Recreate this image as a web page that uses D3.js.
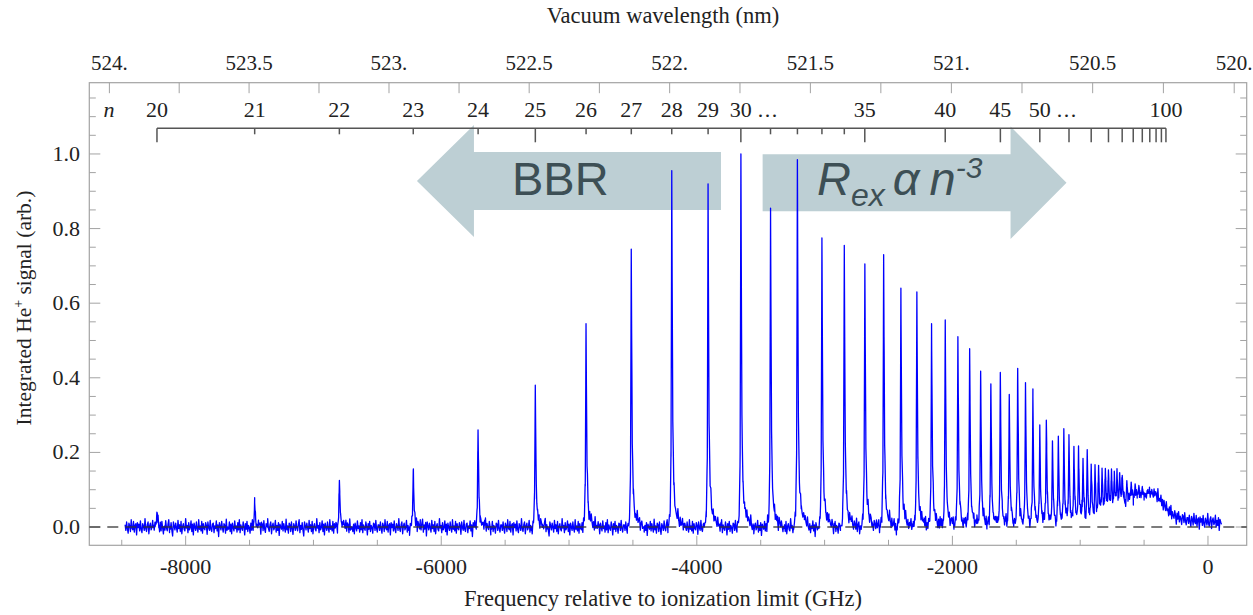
<!DOCTYPE html>
<html>
<head>
<meta charset="utf-8">
<script src="https://cdn.jsdelivr.net/npm/d3@7"></script>
<style>
  body { margin: 0; background: #fff; }
  svg { display: block; }
  text { font-family: "Liberation Serif", "Times New Roman", serif; fill: #222; }
</style>
</head>
<body>
<svg id="chart" width="1253" height="615"></svg>
<script>
// Rydberg peaks (GHz below the ionization limit, arb. height)
const peakFreq = [-8225, -7460, -6797, -6219, -5712, -5264, -4867, -4513, -4196, -3912,
  -3655, -3423, -3213, -3021, -2846, -2685, -2538, -2403, -2278, -2163,
  -2056, -1957, -1865, -1779, -1699, -1625, -1555, -1489, -1428, -1370,
  -1316, -1265, -1217, -1171, -1128, -1088, -1049, -1013, -978, -945,
  -914, -884, -856, -829, -803, -779, -755, -733, -712, -691,
  -671, -635, -601, -570, -541, -514];
const peakHeight = [0.04, 0.065, 0.125, 0.15, 0.26, 0.38, 0.545, 0.745, 0.945, 0.92,
  1.0, 0.855, 0.985, 0.775, 0.755, 0.705, 0.73, 0.64, 0.63, 0.545,
  0.555, 0.51, 0.476, 0.415, 0.38, 0.41, 0.35, 0.42, 0.38, 0.342,
  0.262, 0.28, 0.223, 0.236, 0.253, 0.233, 0.2, 0.2, 0.165, 0.188,
  0.145, 0.138, 0.13, 0.118, 0.113, 0.105, 0.104, 0.092, 0.095, 0.08,
  0.07, 0.055, 0.045, 0.035, 0.025, 0.02];

// unresolved high-n continuum under the merged lines
const bgFreq = [-1160, -923, -845, -767, -689, -610, -532, -454, -399, -352, -313, -258, -180, -63, 110];
const bgLevel = [0, 0.01, 0.025, 0.035, 0.05, 0.07, 0.085, 0.09, 0.085, 0.065, 0.045, 0.03, 0.02, 0.015, 0.013];

// line shape of a single peak (offset in GHz, fraction of height)
const profileOffset = [-30, -14, -6, -2, 0, 3, 8, 16, 30, 55, 100];
const profileLevel = [0, 0.03, 0.2, 0.7, 1, 0.7, 0.3, 0.12, 0.05, 0.02, 0];

// baseline jitter, in units of 0.001
const baselineNoise = [4, -6, 9, -3, -11, 7, 2, -8, 13, -2, -5, 10, -9, 3, 6, -14, 8, -1, 5, -7,
  11, -4, -10, 6, 1, -6, 15, -3, -8, 4, 9, -12, 2, 7, -5, -1, 12, -9, 3, -6,
  8, -15, 5, 0, -4, 10, -7, 6, -2, -9, 14, -5, 2, -11, 7, 4, -8, 9, -3, -13,
  6, 1, -6, 11, -2, -7, 5, 13, -10, 3, -4, 8, -6, -16, 9, 2, -5, 7, -1, -9,
  12, -3, 4, -8, 10, -12, 1, 6, -4, -7, 15, -2, 3, -10, 8, -5, -1, 11, -8, 5,
  -14, 7, 0, -6, 9, -3, -9, 13, -4, 2, -7, 10, -11, 6, -2, -5, 8, 3, -13, 9,
  -1, -6, 12, -4, -8, 5, 7, -10, 2, -3, 11, -7, 4, -17, 8, 1, -5, 10, -2, -9,
  6, 3, -11, 14, -6, 0, -4, 9, -8, 5, -12, 7, -1, -7, 11, -3, 2, -9, 8, -5,
  13, -10, 4, -2, -6, 9, 1, -14, 6, -4, 10, -8, 3, -1, -11, 7, 5, -6, 12, -3, -9, 4];

const yTickValues = [0, 0.2, 0.4, 0.6, 0.8, 1.0];
const xTickValues = [-8000, -6000, -4000, -2000, 0];
const wavelengthTicks = [524, 523.75, 523.5, 523.25, 523, 522.75, 522.5, 522.25, 522,
  521.75, 521.5, 521.25, 521, 520.75, 520.5, 520.25, 520];
const wavelengthLabels = ["524.", "523.5", "523.", "522.5", "522.", "521.5", "521.", "520.5", "520."];
const nTicks = [20, 21, 22, 23, 24, 25, 26, 27, 28, 29, 30, 31, 32, 33, 34, 35, 40, 45,
  50, 55, 60, 65, 70, 75, 80, 85, 90, 95, 100];
const nLongTicks = [20, 25, 30, 35, 40, 45, 50, 55, 60, 65, 70, 75, 80, 85, 90, 95, 100];
const nLabels = [20, 21, 22, 23, 24, 25, 26, 27, 28, 29, 30, 35, 40, 45, 50, 100];
const nEllipsis = [30, 50];

const rydberg = 3289800; // GHz
const ionLimit = 1152842.7; // GHz, two-photon of the laser
const lightSpeed = 299792458; // nm GHz

const box = { left: 89.3, right: 1246.7, top: 82.7, bottom: 545.3 };
const x = d3.scaleLinear().domain([-8754, 303]).range([box.left, box.right]);
const y = d3.scaleLinear().domain([-0.049, 1.191]).range([box.bottom, box.top]);

const svg = d3.select("#chart");
const frameColor = "#a3a3a3";
const labelSize = "22px";

const interp = (xs, ys, v) => {
  if (v <= xs[0]) return ys[0];
  if (v >= xs[xs.length - 1]) return ys[ys.length - 1];
  const i = d3.bisectRight(xs, v);
  const t = (v - xs[i - 1]) / (xs[i] - xs[i - 1]);
  return ys[i - 1] + t * (ys[i] - ys[i - 1]);
};

const buildSpectrum = () => {
  const samples = [];
  for (let f = -8474; f <= 110; f += 6) samples.push({ f, grid: true });
  peakFreq.forEach((p) => profileOffset.forEach((o) => samples.push({ f: p + o, grid: false })));
  samples.sort((a, b) => a.f - b.f);
  return samples.map((s, i) => {
    const f = s.f;
    let v = f < bgFreq[0] ? 0 : interp(bgFreq, bgLevel, f);
    peakFreq.forEach((p, k) => {
      const d = f - p;
      if (d > profileOffset[0] && d < profileOffset[profileOffset.length - 1]) {
        v += peakHeight[k] * interp(profileOffset, profileLevel, d);
      }
    });
    if (s.grid) v += baselineNoise[i % baselineNoise.length] * 0.0015;
    return [f, v];
  });
};

// arrows (behind everything)
const arrow = (tail, headBase, tip, center, bodyHalf, headHalf) => {
  const pts = [
    [tip, center],
    [headBase, center + headHalf],
    [headBase, center + bodyHalf],
    [tail, center + bodyHalf],
    [tail, center - bodyHalf],
    [headBase, center - bodyHalf],
    [headBase, center - headHalf],
  ];
  svg.append("polygon")
    .attr("points", pts.map((p) => [x(p[0]), y(p[1])].join(",")).join(" "))
    .attr("fill", "#bdcfd4");
};
arrow(-3811, -5744, -6190, 0.9276, 0.0777, 0.150);
arrow(-3485, -1545, -1107, 0.9228, 0.0764, 0.151);

svg.append("text")
  .attr("x", 512).attr("y", 195)
  .style("font-family", "'Liberation Sans', Arial, sans-serif")
  .style("font-size", "47px")
  .style("fill", "#3d4f55")
  .text("BBR");

const rex = svg.append("text")
  .attr("x", 817).attr("y", 195)
  .style("font-family", "'Liberation Sans', Arial, sans-serif")
  .style("font-size", "47px")
  .style("font-style", "italic")
  .style("fill", "#3d4f55");
rex.append("tspan").text("R");
rex.append("tspan").attr("dy", 11).style("font-size", "32px").text("ex");
rex.append("tspan").attr("dy", -11).attr("dx", 8).text("α");
rex.append("tspan").attr("dx", 10).text("n");
rex.append("tspan").attr("dy", -17).style("font-size", "30px").text("-3");

// frame
svg.append("rect")
  .attr("x", box.left).attr("y", box.top)
  .attr("width", box.right - box.left).attr("height", box.bottom - box.top)
  .attr("fill", "none").attr("stroke", frameColor).attr("stroke-width", 1.2);

// y ticks, both sides
const yMinor = d3.range(0, 24).map((i) => i * 0.05);
yMinor.forEach((v) => {
  const major = Math.abs(v * 5 - Math.round(v * 5)) < 1e-6;
  const len = major ? 11 : 6.5;
  svg.append("line")
    .attr("x1", box.left).attr("x2", box.left + len)
    .attr("y1", y(v)).attr("y2", y(v))
    .attr("stroke", frameColor);
  svg.append("line")
    .attr("x1", box.right).attr("x2", box.right - len)
    .attr("y1", y(v)).attr("y2", y(v))
    .attr("stroke", frameColor);
});
svg.selectAll(".ylab")
  .data(yTickValues)
  .join("text")
  .attr("class", "ylab")
  .attr("x", 80)
  .attr("y", (d) => y(d) + 7)
  .attr("text-anchor", "end")
  .style("font-size", labelSize)
  .text((d) => d.toFixed(1));

// bottom ticks
d3.range(-8500, 1, 500).forEach((f) => {
  const len = f % 2000 === 0 ? 9.5 : 5.5;
  svg.append("line")
    .attr("x1", x(f)).attr("x2", x(f))
    .attr("y1", box.bottom).attr("y2", box.bottom - len)
    .attr("stroke", frameColor);
});
svg.selectAll(".xlab")
  .data(xTickValues)
  .join("text")
  .attr("class", "xlab")
  .attr("x", (d) => x(d))
  .attr("y", 574)
  .attr("text-anchor", "middle")
  .style("font-size", labelSize)
  .text((d) => (d < 0 ? "-" + Math.abs(d) : d));

// top wavelength axis
const waveToFreq = (lam) => (2 * lightSpeed) / lam - ionLimit;
wavelengthTicks.forEach((lam) => {
  svg.append("line")
    .attr("x1", x(waveToFreq(lam))).attr("x2", x(waveToFreq(lam)))
    .attr("y1", box.top).attr("y2", box.top + 10.5)
    .attr("stroke", frameColor);
});
svg.selectAll(".wlab")
  .data(wavelengthLabels)
  .join("text")
  .attr("class", "wlab")
  .attr("x", (d) => x(waveToFreq(parseFloat(d))))
  .attr("y", 70)
  .attr("text-anchor", "middle")
  .style("font-size", "21px")
  .text((d) => d);

// principal quantum number axis
const nToFreq = (n) => -rydberg / (n * n);
const nLineY = 128.3;
svg.append("line")
  .attr("x1", x(nToFreq(20))).attr("x2", x(nToFreq(100)))
  .attr("y1", nLineY).attr("y2", nLineY)
  .attr("stroke", "#555").attr("stroke-width", 1.6);
nTicks.forEach((n) => {
  const len = nLongTicks.includes(n) ? 14 : 6;
  svg.append("line")
    .attr("x1", x(nToFreq(n))).attr("x2", x(nToFreq(n)))
    .attr("y1", nLineY).attr("y2", nLineY + len)
    .attr("stroke", "#555").attr("stroke-width", 1.5);
});
svg.selectAll(".nlab")
  .data(nLabels)
  .join("text")
  .attr("class", "nlab")
  .attr("x", (d) => x(nToFreq(d)))
  .attr("y", 117)
  .attr("text-anchor", "middle")
  .style("font-size", labelSize)
  .text((d) => d);
nEllipsis.forEach((n) => {
  svg.append("text")
    .attr("x", x(nToFreq(n)) + 17)
    .attr("y", 117)
    .style("font-size", labelSize)
    .style("letter-spacing", "1.5px")
    .text("...");
});
svg.append("text")
  .attr("x", 109).attr("y", 117)
  .attr("text-anchor", "middle")
  .style("font-size", labelSize)
  .style("font-style", "italic")
  .text("n");

// spectrum
const spectrum = buildSpectrum();
svg.append("path")
  .datum(spectrum)
  .attr("fill", "none")
  .attr("stroke", "#0000ff")
  .attr("stroke-width", 1.3)
  .attr("stroke-linejoin", "round")
  .attr("d", d3.line().x((d) => x(d[0])).y((d) => y(d[1])));

svg.append("line")
  .attr("x1", box.left).attr("x2", box.right)
  .attr("y1", y(0)).attr("y2", y(0))
  .attr("stroke", "#333")
  .attr("stroke-opacity", 0.85)
  .attr("stroke-width", 1.5)
  .attr("stroke-dasharray", "11,7");

// axis titles
svg.append("text")
  .attr("x", 663).attr("y", 23)
  .attr("text-anchor", "middle")
  .style("font-size", "22.5px")
  .text("Vacuum wavelength (nm)");

svg.append("text")
  .attr("x", 663).attr("y", 606)
  .attr("text-anchor", "middle")
  .style("font-size", "22.5px")
  .text("Frequency relative to ionization limit (GHz)");

const yTitle = svg.append("text")
  .attr("transform", "translate(31,308) rotate(-90)")
  .attr("text-anchor", "middle")
  .style("font-size", "21.5px");
yTitle.append("tspan").text("Integrated He");
yTitle.append("tspan").attr("dy", -8).style("font-size", "14px").text("+");
yTitle.append("tspan").attr("dy", 8).text(" signal (arb.)");
</script>
</body>
</html>
